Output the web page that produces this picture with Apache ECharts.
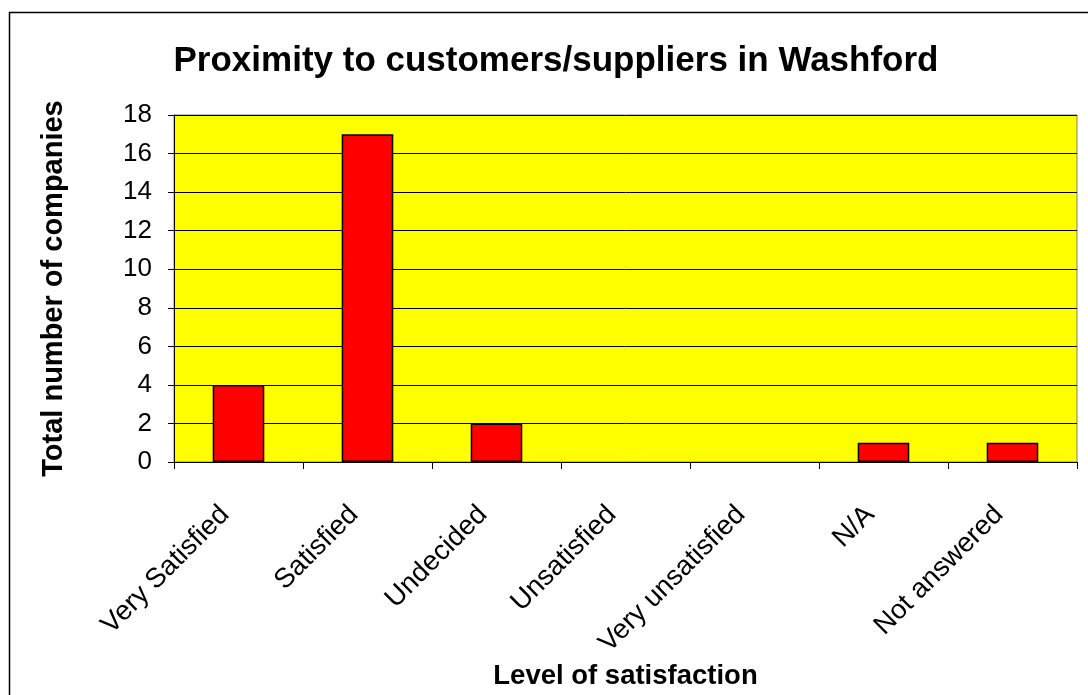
<!DOCTYPE html>
<html>
<head>
<meta charset="utf-8">
<script src="https://cdn.jsdelivr.net/npm/echarts@6/dist/echarts.min.js"></script>
<style>html,body{margin:0;padding:0;background:#fff}#c{width:1088px;height:695px}</style>
</head>
<body>
<div id="c"></div>
<script>
const categories = ['Very Satisfied', 'Satisfied', 'Undecided', 'Unsatisfied', 'Very unsatisfied', 'N/A', 'Not answered'];
const values = [4, 17, 2, 0, 0, 1, 1];
const titleText = 'Proximity to customers/suppliers in Washford';
const yAxisName = 'Total number of companies';
const xAxisName = 'Level of satisfaction';

const chart = echarts.init(document.getElementById('c'), null, {renderer: 'canvas'});
const F = '"Liberation Sans", Arial, sans-serif';
chart.setOption({
  animation: false,
  backgroundColor: '#ffffff',
  graphic: [{
    type: 'rect', left: 7, top: 10, silent: true, z: -10,
    shape: {width: 1100, height: 700},
    style: {fill: 'none', stroke: '#000', lineWidth: 1.5}
  }],
  title: {
    text: titleText, left: 551, top: 39, textAlign: 'center',
    textStyle: {fontFamily: F, fontSize: 35, fontWeight: 'bold', color: '#000'}
  },
  grid: {left: 174, top: 115, right: 11, bottom: 233, show: true, backgroundColor: '#ffff00', borderColor: '#808080', borderWidth: 1},
  xAxis: {
    type: 'category', data: categories,
    name: xAxisName, nameLocation: 'middle', nameGap: 200,
    nameTextStyle: {fontFamily: F, fontSize: 27.5, fontWeight: 'bold', color: '#000'},
    axisLine: {lineStyle: {color: '#000', width: 1}},
    axisTick: {show: true, length: 7, alignWithLabel: false, lineStyle: {color: '#000'}},
    axisLabel: {rotate: 45, fontFamily: F, fontSize: 27.5, color: '#000', margin: 35, padding: [0, 19, 0, 0], interval: 0},
    splitLine: {show: false}
  },
  yAxis: {
    type: 'value', min: 0, max: 18, interval: 2,
    name: yAxisName, nameLocation: 'middle', nameGap: 106, nameRotate: 90,
    nameTextStyle: {fontFamily: F, fontSize: 29, fontWeight: 'bold', color: '#000'},
    axisLine: {show: true, lineStyle: {color: '#000', width: 1}},
    axisTick: {show: true, length: 6, lineStyle: {color: '#000'}},
    axisLabel: {fontFamily: F, fontSize: 26, color: '#000', margin: 22},
    splitLine: {show: true, lineStyle: {color: '#000', width: 1}}
  },
  series: [{
    type: 'bar',
    data: values.map(v => v === 0 ? {value: v, itemStyle: {borderWidth: 0}} : v),
    barWidth: '40%',
    itemStyle: {color: '#ff0000', borderColor: '#000', borderWidth: 1.5}
  }]
});
</script>
</body>
</html>
